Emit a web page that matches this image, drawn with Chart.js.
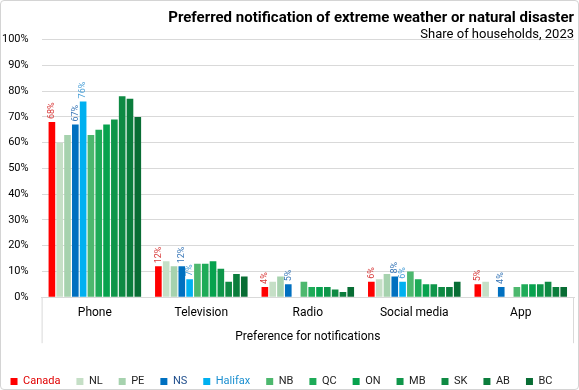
<!DOCTYPE html>
<html>
<head>
<meta charset="utf-8">
<script src="https://cdn.jsdelivr.net/npm/chart.js@4"></script>
<style>
  html, body { margin: 0; padding: 0; background: #fff; }
  #wrap { width: 579px; height: 390px; box-sizing: border-box; border: 1px solid #d4d4d4; border-radius: 4px; }
</style>
</head>
<body>
<div id="wrap"><canvas id="myChart"></canvas></div>
<script>
// categorias y valores (%)
const categories = ['Phone', 'Television', 'Radio', 'Social media', 'App'];
const canada  = [68, 12, 4, 6, 5];
const nl      = [60, 14, 6, 7, 6];
const pe      = [63, 12, 8, 9, null];
const ns      = [67, 12, 5, 8, 4];
const halifax = [76, 7, null, 6, null];
const nb      = [63, 13, 6, 10, 4];
const qc      = [65, 13, 4, 7, 5];
const on      = [67, 14, 4, 5, 5];
const mb      = [69, 11, 4, 5, 5];
const sk      = [78, 6, 3, 4, 6];
const ab      = [77, 9, 2, 4, 4];
const bc      = [70, 8, 4, 6, 4];
const yTicks  = [0, 10, 20, 30, 40, 50, 60, 70, 80, 90, 100];

const FONT = 'Roboto, "Liberation Sans", sans-serif';

function serie(label, data, color, labelColor, textColor) {
    return {
        label: label,
        data: data,
        backgroundColor: color,
        labelColor: labelColor,
        textColor: textColor || '#222',
        barPercentage: 0.85,
        categoryPercentage: 0.88
    };
}

const datos = {
    labels: categories,
    datasets: [
        serie('Canada', canada, '#ff0000', '#d83a3a', '#e00000'),
        serie('NL', nl, '#c5dfc6'),
        serie('PE', pe, '#a6d2ae'),
        serie('NS', ns, '#0070c0', '#3a78b8', '#1f4e8c'),
        serie('Halifax', halifax, '#00b0f0', '#4aa0d8', '#1a8fd0'),
        serie('NB', nb, '#4db86e'),
        serie('QC', qc, '#1eab58'),
        serie('ON', on, '#07a24e'),
        serie('MB', mb, '#0f964a'),
        serie('SK', sk, '#0e8a43'),
        serie('AB', ab, '#0b7d3c'),
        serie('BC', bc, '#086d34')
    ]
};

// etiquetas verticales encima de las barras (Canada, NS, Halifax)
const etiquetas = {
    id: 'etiquetas',
    afterDatasetsDraw(chart) {
        const ctx = chart.ctx;
        chart.data.datasets.forEach((ds, i) => {
            if (!ds.labelColor) return;
            chart.getDatasetMeta(i).data.forEach((bar, j) => {
                const v = ds.data[j];
                if (v === null) return;
                ctx.save();
                ctx.translate(bar.x, bar.y - 3);
                ctx.rotate(-Math.PI / 2);
                ctx.font = '9px ' + FONT;
                ctx.fillStyle = ds.labelColor;
                ctx.textAlign = 'left';
                ctx.textBaseline = 'middle';
                ctx.fillText(v + '%', 0, 0);
                ctx.restore();
            });
        });
    }
};

// caja del eje x
const cajaEje = {
    id: 'cajaEje',
    afterDraw(chart) {
        const ctx = chart.ctx;
        const a = chart.chartArea;
        ctx.save();
        ctx.strokeStyle = '#d9d9d9';
        ctx.lineWidth = 1;
        ctx.beginPath();
        ctx.moveTo(a.left + 0.5, a.bottom);
        ctx.lineTo(a.left + 0.5, a.bottom + 46);
        ctx.moveTo(a.right - 0.5, a.bottom);
        ctx.lineTo(a.right - 0.5, a.bottom + 46);
        ctx.stroke();
        ctx.restore();
    }
};

new Chart(document.getElementById('myChart'), {
    type: 'bar',
    data: datos,
    plugins: [etiquetas, cajaEje],
    options: {
        responsive: true,
        maintainAspectRatio: false,
        animation: false,
        layout: { padding: { left: -12, right: 4, top: 0, bottom: -8 } },
        plugins: {
            title: {
                display: true,
                text: 'Preferred notification of extreme weather or natural disaster',
                align: 'end',
                color: '#000',
                font: { family: FONT, size: 15, weight: 'bold' },
                padding: { top: 8, bottom: 0 }
            },
            subtitle: {
                display: true,
                text: 'Share of households, 2023',
                align: 'end',
                color: '#000',
                font: { family: FONT, size: 13 },
                padding: { top: 0, bottom: -3 }
            },
            legend: {
                position: 'bottom',
                labels: {
                    font: { family: FONT, size: 11 },
                    boxWidth: 7,
                    boxHeight: 7,
                    padding: 16,
                    generateLabels(chart) {
                        return chart.data.datasets.map((ds, i) => ({
                            text: ds.label,
                            fillStyle: ds.backgroundColor,
                            strokeStyle: ds.backgroundColor,
                            lineWidth: 0,
                            fontColor: ds.textColor,
                            datasetIndex: i
                        }));
                    }
                }
            },
            tooltip: { enabled: false }
        },
        scales: {
            x: {
                grid: { display: false, drawTicks: false },
                border: { display: true, color: '#d9d9d9' },
                ticks: { color: '#000', font: { family: FONT, size: 12 }, padding: 9 },
                title: {
                    display: true,
                    text: 'Preference for notifications',
                    color: '#000',
                    font: { family: FONT, size: 12 },
                    padding: { top: 0, bottom: 16 }
                }
            },
            y: {
                min: 0,
                max: 100,
                afterBuildTicks(axis) { axis.ticks = yTicks.map(v => ({ value: v })); },
                grid: { color: '#d9d9d9', drawTicks: false },
                border: { display: false },
                ticks: {
                    color: '#000',
                    font: { family: FONT, size: 11 },
                    padding: 13,
                    callback: v => v + '%'
                }
            }
        }
    }
});
</script>
</body>
</html>
